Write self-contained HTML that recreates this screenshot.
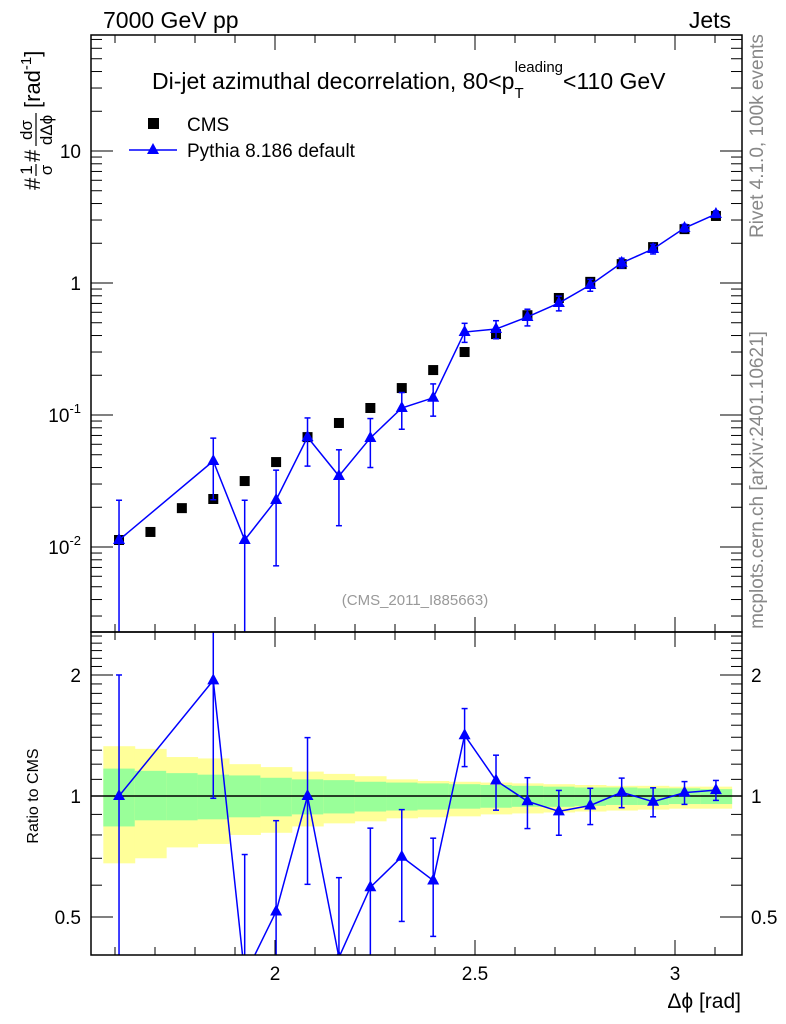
<!DOCTYPE html>
<html><head><meta charset="utf-8"><style>
html,body{margin:0;background:#fff;overflow:hidden;width:786px;height:1024px;}
svg{display:block;font-family:"Liberation Sans",sans-serif;}
</style></head><body>
<svg id="chart" width="786" height="1024" xmlns="http://www.w3.org/2000/svg">
<g id="bands"></g>
<g id="marks"></g>
<g id="axes"></g>
<text x="103" y="28" font-size="23">7000 GeV pp</text>
<text x="731" y="28" font-size="23" text-anchor="end">Jets</text>
<text x="152" y="89" font-size="23">Di-jet azimuthal decorrelation, 80&lt;p<tspan font-size="15" dy="9">T</tspan><tspan font-size="15" dx="-9" dy="-26">leading</tspan><tspan dy="17">&lt;110 GeV</tspan></text>
<g>
<rect x="148" y="118" width="11" height="11" fill="#000"/>
<text x="187" y="131" font-size="19">CMS</text>
<line x1="129" y1="150" x2="177" y2="150" stroke="#00f" stroke-width="1.5"/>
<path d="M153,143 L159,154 L147,154 Z" fill="#00f"/>
<text x="187" y="157" font-size="19">Pythia 8.186 default</text>
</g>
<text x="415" y="605" font-size="15" fill="#999" text-anchor="middle">(CMS_2011_I885663)</text>
<text transform="translate(763,136) rotate(-90)" font-size="19" fill="#888" text-anchor="middle">Rivet 4.1.0,  100k events</text>
<text transform="translate(763,480) rotate(-90)" font-size="19" fill="#888" text-anchor="middle">mcplots.cern.ch [arXiv:2401.10621]</text>
<g transform="translate(40,190) rotate(-90)">
<text x="0" y="0" font-size="22">#</text>
<text x="20" y="-8" font-size="17" text-anchor="middle">1</text>
<line x1="14" x2="26" y1="-4" y2="-4" stroke="#000" stroke-width="1.2"/>
<text x="20" y="12" font-size="17" text-anchor="middle">σ</text>
<text x="28" y="0" font-size="22">#</text>
<text x="60" y="-8" font-size="17" text-anchor="middle">dσ</text>
<line x1="44" x2="77" y1="-4" y2="-4" stroke="#000" stroke-width="1.2"/>
<text x="60" y="12" font-size="17" text-anchor="middle">dΔϕ</text>
<text x="82" y="0" font-size="22">[rad<tspan font-size="15" dy="-9">-1</tspan><tspan dy="9">]</tspan></text>
</g>
<text transform="translate(38,796) rotate(-90)" font-size="16" text-anchor="middle">Ratio to CMS</text>
<text x="741" y="1008" font-size="21" text-anchor="end">Δϕ [rad]</text>
</svg>
<script>
const cmsValues=[0.0113,0.013,0.0197,0.0231,0.0316,0.044,0.068,0.087,0.113,0.160,0.219,0.30,0.41,0.57,0.77,1.02,1.39,1.87,2.56,3.22];
const pythiaValues=[0.0113,0,0,0.0448,0.0113,0.0227,0.068,0.0345,0.067,0.113,0.135,0.425,0.448,0.553,0.705,0.966,1.42,1.81,2.61,3.33];
const pythiaErrors=[0.0113,0,0,0.022,0.0113,0.0155,0.027,0.02,0.027,0.035,0.037,0.07,0.07,0.08,0.09,0.10,0.12,0.15,0.17,0.19];
const greenUp=[1.17,1.155,1.14,1.13,1.125,1.11,1.10,1.095,1.085,1.08,1.075,1.07,1.065,1.06,1.055,1.05,1.05,1.045,1.045,1.04];
const greenDown=[0.84,0.87,0.87,0.875,0.885,0.89,0.9,0.905,0.915,0.92,0.925,0.93,0.935,0.94,0.94,0.945,0.95,0.95,0.955,0.955];
const yellowUp=[1.33,1.31,1.25,1.24,1.20,1.18,1.15,1.135,1.12,1.10,1.09,1.085,1.08,1.075,1.07,1.065,1.06,1.06,1.055,1.055];
const yellowDown=[0.68,0.70,0.745,0.76,0.80,0.81,0.84,0.855,0.865,0.88,0.885,0.89,0.9,0.905,0.91,0.915,0.92,0.925,0.93,0.93];
const xTicks=[2,2.5,3];
const yTicks=[0.01,0.1,1,10];
const yTickLabels=["10","10","1","10"];
const rTicks=[0.5,1,2];
const rTickLabels=["0.5","1","2"];

const NS="http://www.w3.org/2000/svg";
const L=91,R=742,T=35,MB=632,RB=955;
const X=v=>275+(v-2)*400;
const Y=v=>283-132*Math.log10(v);
const RY=v=>796-402*Math.log10(v);
const W=Math.PI/40, X0=Math.PI/2;
function el(tag,attrs,parent){const e=document.createElementNS(NS,tag);for(const k in attrs)e.setAttribute(k,attrs[k]);parent.appendChild(e);return e;}
const svg=document.getElementById('chart');
const bands=document.getElementById('bands'),marks=document.getElementById('marks'),axes=document.getElementById('axes');
const defs=el('defs',{},svg);
const c1=el('clipPath',{id:'cm'},defs);el('rect',{x:L,y:T,width:R-L,height:MB-T},c1);
const c2=el('clipPath',{id:'cr'},defs);el('rect',{x:L,y:MB,width:R-L,height:RB-MB},c2);
bands.setAttribute('clip-path','url(#cr)');
for(let i=0;i<cmsValues.length;i++){
  const x1=X(X0+i*W),x2=X(X0+(i+1)*W);
  const y=el('rect',{x:x1,y:RY(yellowUp[i]),width:x2-x1+0.5,height:RY(yellowDown[i])-RY(yellowUp[i]),fill:'#ffff99'},bands);
  
  
  const g=el('rect',{x:x1,y:RY(greenUp[i]),width:x2-x1+0.5,height:RY(greenDown[i])-RY(greenUp[i]),fill:'#99ff99'},bands);
  
  
}
el('line',{x1:L,x2:R,y1:RY(1),y2:RY(1),stroke:'#000','stroke-width':1.5},bands);
const gm=el('g',{'clip-path':'url(#cm)'},marks);
const gr=el('g',{'clip-path':'url(#cr)'},marks);
const cx=i=>X(X0+(i+0.5)*W);
let pm=[],pr=[];
for(let i=0;i<cmsValues.length;i++){
  const s=el('rect',{x:cx(i)-5,y:Y(cmsValues[i])-5,width:10,height:10,fill:'#000'},gm);
  
  
  const v=pythiaValues[i];
  if(v>0){
    pm.push(cx(i)+','+Y(v));
    const r=v/cmsValues[i], re=pythiaErrors[i]/cmsValues[i];
    pr.push(cx(i)+','+RY(r));
    [[gm,Y,v,pythiaErrors[i]],[gr,RY,r,re]].forEach(([g,F,val,e])=>{
      const lo=val-e>0?F(val-e):2000;
      el('line',{x1:cx(i),x2:cx(i),y1:F(val+e),y2:lo,stroke:'#00f','stroke-width':1.5},g);
      el('line',{x1:cx(i)-3,x2:cx(i)+3,y1:F(val+e),y2:F(val+e),stroke:'#00f','stroke-width':1.5},g);
      if(val-e>0)el('line',{x1:cx(i)-3,x2:cx(i)+3,y1:lo,y2:lo,stroke:'#00f','stroke-width':1.5},g);
    });
  }
}
el('polyline',{points:pm.join(' '),fill:'none',stroke:'#00f','stroke-width':1.5},gm);
el('polyline',{points:pr.join(' '),fill:'none',stroke:'#00f','stroke-width':1.5},gr);
for(let i=0;i<cmsValues.length;i++){
  const v=pythiaValues[i];if(!(v>0))continue;
  const y1=Y(v),y2=RY(v/cmsValues[i]),x=cx(i);
  const t=el('path',{d:`M${x},${y1-7} L${x+6},${y1+4} L${x-6},${y1+4} Z`,fill:'#00f'},gm);
  
  
  const t2=el('path',{d:`M${x},${y2-7} L${x+6},${y2+4} L${x-6},${y2+4} Z`,fill:'#00f'},gr);
  
  
}
el('rect',{x:L,y:T,width:R-L,height:MB-T,fill:'none',stroke:'#000','stroke-width':1.5},axes);
el('rect',{x:L,y:MB,width:R-L,height:RB-MB,fill:'none',stroke:'#000','stroke-width':1.5},axes);
const tk=(x1,y1,x2,y2)=>el('line',{x1,y1,x2,y2,stroke:'#000','stroke-width':1},axes);
for(let k=16;k<=31;k++){const v=k/10,x=X(v);if(x<L||x>R)continue;const maj=xTicks.some(t=>Math.abs(t-v)<1e-6);const len=maj?15:8;
  tk(x,T,x,T+len);tk(x,MB,x,MB-len);tk(x,MB,x,MB+len);tk(x,RB,x,RB-len);}
xTicks.forEach(v=>{const t=el('text',{x:X(v),y:980,'font-size':19,'text-anchor':'middle'},axes);t.textContent=String(v);
  
  });
for(let d=-3;d<=1;d++)for(let m=1;m<10;m++){const v=m*Math.pow(10,d),y=Y(v);if(y<T||y>MB)continue;const len=m==1?22:11;tk(L,y,L+len,y);tk(R,y,R-len,y);}
yTicks.forEach((v,i)=>{const y=Y(v);const t=el('text',{x:81,y:y+7,'font-size':19,'text-anchor':'end'},axes);t.textContent=yTickLabels[i];
  if(v<1){const ts=el('tspan',{'font-size':13,dy:-9},t);ts.textContent=String(Math.round(Math.log10(v)));}
  
  });
for(let k=5;k<=25;k++){const v=k/10,y=RY(v);if(y<MB||y>RB)continue;const maj=rTicks.some(t=>Math.abs(t-v)<1e-6);const len=maj?22:11;tk(L,y,L+len,y);tk(R,y,R-len,y);}
rTicks.forEach((v,i)=>{const y=RY(v);
  const t=el('text',{x:81,y:y+7,'font-size':19,'text-anchor':'end'},axes);t.textContent=rTickLabels[i];
  
  
  const t2=el('text',{x:751,y:y+7,'font-size':19},axes);t2.textContent=rTickLabels[i];
  
  });
</script>
</body></html>
